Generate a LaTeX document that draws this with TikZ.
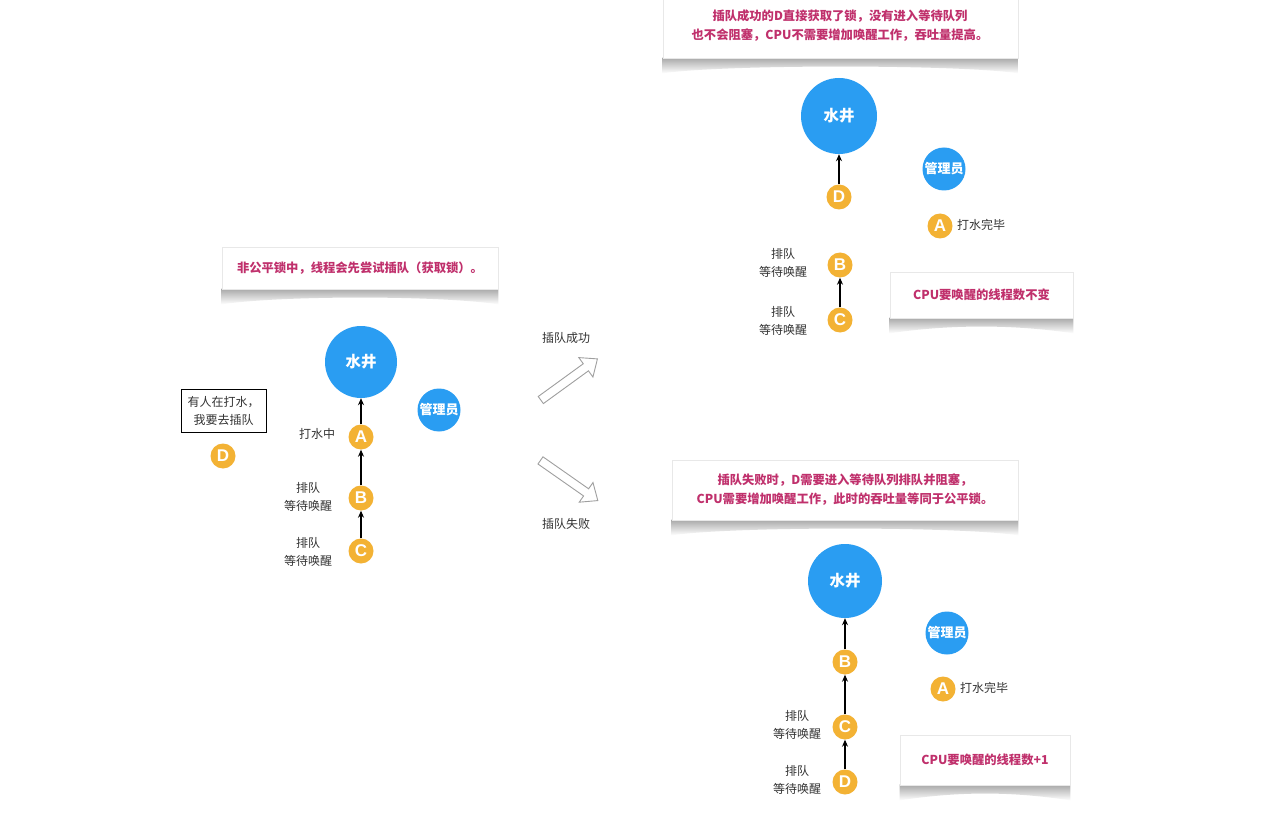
\documentclass[tikz,border=0pt]{standalone}
\usepackage{fontspec}
\setmainfont{Noto Sans CJK SC}
\newfontfamily\letterfont{Liberation Sans}
\usetikzlibrary{arrows.meta,shapes.arrows}
\definecolor{wellblue}{HTML}{2A9DF2}
\definecolor{threadorg}{HTML}{F3B234}
\definecolor{notemag}{HTML}{C0306C}
\definecolor{txtgray}{HTML}{333333}
\tikzset{
  well/.style={circle, fill=wellblue, minimum size=72pt, inner sep=0pt, text=white, font=\bfseries\fontsize{15.5}{18}\selectfont},
  mgr/.style={circle, fill=wellblue, minimum size=43pt, inner sep=0pt, text=white, font=\bfseries\fontsize{13}{14}\selectfont},
  thread/.style={circle, fill=threadorg, minimum size=25pt, inner sep=0pt, text=white, font=\letterfont\bfseries\fontsize{17}{17}\selectfont},
  lbl/.style={align=center, text=txtgray, font=\fontsize{12}{18}\selectfont, inner sep=1pt},
  note/.style={align=center, text=notemag, font=\bfseries\fontsize{12.3}{19}\selectfont},
  notebox/.style={fill=white, draw=gray!18, line width=0.6pt},
  conn/.style={-{Stealth[length=7pt,width=6pt]}, line width=1.3pt, black},
  bigarrow/.style={single arrow, draw=gray!75, fill=white, line width=0.9pt, minimum height=70pt, minimum width=24pt, single arrow head extend=6pt, single arrow tip angle=80, inner sep=3pt}
}
\newcommand{\curlshadow}[1]{%
  \shade[top color=gray!70, bottom color=white]
    ([yshift=1]#1.south west) -- ([yshift=-15]#1.south west)
    .. controls ([xshift=60,yshift=-6]#1.south west) and ([xshift=-60,yshift=-6]#1.south east) .. ([yshift=-15]#1.south east)
    -- ([yshift=1]#1.south east) -- cycle;}
\begin{document}
\begin{tikzpicture}[x=1pt,y=-1pt]
\useasboundingbox[fill=white] (0,0) rectangle (1282,834);

% ---------- left panel ----------
\node[notebox, minimum width=276pt, minimum height=42pt] (n1) at (360,268) {};
\curlshadow{n1}
\node[notebox, minimum width=276pt, minimum height=42pt, note] at (n1) {非公平锁中，线程会先尝试插队（获取锁）。};

\node[well] (w1) at (361,362) {水井};
\node[mgr] (m1) at (439,410) {管理员};
\node[thread] (a1) at (361,437) {A};
\node[thread] (b1) at (361,498) {B};
\node[thread] (c1) at (361,551) {C};
\draw[conn] (a1) -- (w1);
\draw[conn] (b1) -- (a1);
\draw[conn] (c1) -- (b1);
\node[lbl] (la1) at (317,434) {打水中};
\node[lbl] (lb1) at (308,497) {排队\\等待唤醒};
\node[lbl] (lc1) at (308,552) {排队\\等待唤醒};
\node[draw=black, line width=0.8pt, minimum width=85pt, minimum height=43pt, lbl] (q) at (223.5,410.5) {有人在打水，\\我要去插队};
\node[thread] (d1) at (223,456) {D};

% ---------- middle arrows ----------
\node[lbl] (succ) at (566,338) {插队成功};
\node[bigarrow, rotate=36] (arr1) at (567,381) {};
\node[bigarrow, rotate=-35] (arr2) at (567,479) {};
\node[lbl] (fail) at (566,524) {插队失败};

% ---------- top right ----------
\node[notebox, minimum width=355pt, minimum height=70pt] (n2) at (840.5,23) {};
\curlshadow{n2}
\node[notebox, minimum width=355pt, minimum height=70pt] at (n2) {};
\node[note] (t2) at (840,26) {插队成功的D直接获取了锁，没有进入等待队列\\也不会阻塞，CPU不需要增加唤醒工作，吞吐量提高。};

\node[well, minimum size=76pt] (w2) at (839,116) {水井};
\node[mgr] (m2) at (944,169) {管理员};
\node[thread] (d2) at (839,197) {D};
\draw[conn] (d2) -- (w2);
\node[thread] (a2) at (940,226) {A};
\node[lbl, anchor=west] (la2) at (956,225) {打水完毕};
\node[thread] (b2) at (840,265) {B};
\node[thread] (c2) at (840,320) {C};
\draw[conn] (c2) -- (b2);
\node[lbl] (lb2) at (783,263) {排队\\等待唤醒};
\node[lbl] (lc2) at (783,321) {排队\\等待唤醒};
\node[notebox, minimum width=183pt, minimum height=46pt] (n3) at (981.5,295) {};
\curlshadow{n3}
\node[notebox, minimum width=183pt, minimum height=46pt, note] at (n3) {CPU要唤醒的线程数不变};

% ---------- bottom right ----------
\node[notebox, minimum width=346pt, minimum height=60pt] (n4) at (845,490) {};
\curlshadow{n4}
\node[notebox, minimum width=346pt, minimum height=60pt, note] at (n4) {插队失败时，D需要进入等待队列排队并阻塞，\\CPU需要增加唤醒工作，此时的吞吐量等同于公平锁。};

\node[well, minimum size=74pt] (w3) at (845,581) {水井};
\node[mgr] (m3) at (947,633) {管理员};
\node[thread] (b3) at (845,662) {B};
\node[thread] (c3) at (845,727) {C};
\node[thread] (d3) at (845,782) {D};
\draw[conn] (b3) -- (w3);
\draw[conn] (c3) -- (b3);
\draw[conn] (d3) -- (c3);
\node[thread] (a3) at (943,689) {A};
\node[lbl, anchor=west] (la3) at (959,688) {打水完毕};
\node[lbl] (lc3) at (797,725) {排队\\等待唤醒};
\node[lbl] (ld3) at (797,780) {排队\\等待唤醒};
\node[notebox, minimum width=170pt, minimum height=50pt] (n5) at (985,760) {};
\curlshadow{n5}
\node[notebox, minimum width=170pt, minimum height=50pt, note] at (n5) {CPU要唤醒的线程数+1};
\end{tikzpicture}
\end{document}
